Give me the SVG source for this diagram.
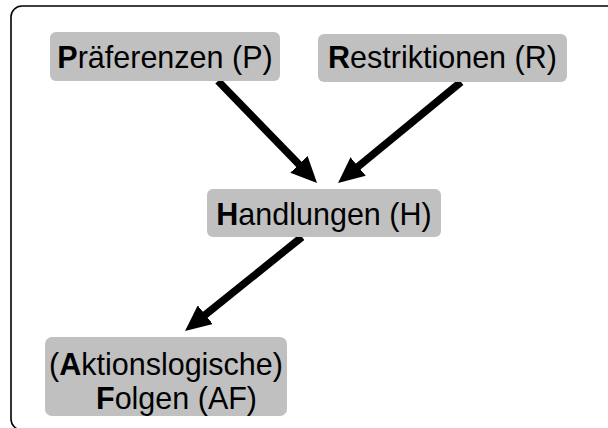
<svg xmlns="http://www.w3.org/2000/svg" width="608" height="428" viewBox="0 0 608 428">
<style>
.box{fill:#c0c0c0;}
.t{font-family:"Liberation Sans",Arial,sans-serif;font-size:30.5px;fill:#000;}
.b{font-weight:bold;}
.arr{stroke:#000;stroke-width:7.5;fill:none;}
</style>
<defs>
<marker id="ah" markerUnits="userSpaceOnUse" markerWidth="27" markerHeight="24" refX="6" refY="12" orient="auto">
<path d="M0,0 L26,12 L0,24 z" fill="#000"/>
</marker>
</defs>
<rect x="11" y="6" width="620" height="424" rx="11" fill="#fff" stroke="#000" stroke-width="1.6"/>
<g id="connectors">
<line class="arr" x1="218" y1="81" x2="303.1" y2="168.6" marker-end="url(#ah)"/>
<line class="arr" x1="461" y1="82" x2="353.5" y2="170.3" marker-end="url(#ah)"/>
<line class="arr" x1="302" y1="237" x2="200.6" y2="318.5" marker-end="url(#ah)"/>
</g>
<g id="node-P">
<rect class="box" x="50" y="32" width="230" height="49" rx="6"/>
<text class="t" x="165" y="68" text-anchor="middle"><tspan class="b">P</tspan>räferenzen (P)</text>
</g>
<g id="node-R">
<rect class="box" x="318" y="34" width="249" height="48" rx="6"/>
<text class="t" x="442.5" y="68" text-anchor="middle"><tspan class="b">R</tspan>estriktionen (R)</text>
</g>
<g id="node-H">
<rect class="box" x="207" y="189" width="234" height="48" rx="6"/>
<text class="t" x="324" y="225" text-anchor="middle"><tspan class="b">H</tspan>andlungen (H)</text>
</g>
<g id="node-AF">
<rect class="box" x="45" y="337" width="242" height="79" rx="7"/>
<text class="t" x="166" y="375" text-anchor="middle">(<tspan class="b">A</tspan>ktionslogische)</text>
<text class="t" x="176.5" y="409" text-anchor="middle"><tspan class="b">F</tspan>olgen (AF)</text>
</g>
</svg>
